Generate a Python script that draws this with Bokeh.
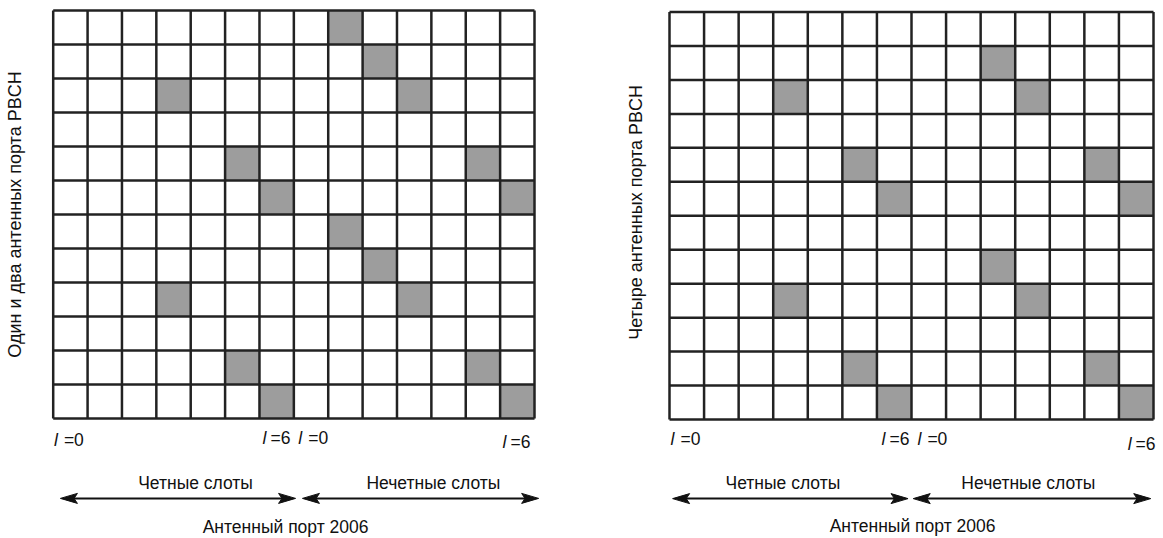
import math
from bokeh.plotting import figure
from bokeh.layouts import row
from bokeh.models import Range1d
from bokeh.embed import file_html
from bokeh.resources import INLINE
from bokeh.core.properties import value

# ---------------- data ----------------
N_COLS = 14
N_ROWS = 12

# shaded resource elements: row index counted from the top, column index (symbol)
left_rows = [0, 1, 2, 2, 4, 4, 5, 5, 6, 7, 8, 8, 10, 10, 11, 11]
left_cols = [8, 9, 3, 10, 5, 12, 6, 13, 8, 9, 3, 10, 5, 12, 6, 13]
right_rows = [1, 2, 2, 4, 4, 5, 5, 7, 8, 8, 10, 10, 11, 11]
right_cols = [9, 3, 10, 5, 12, 6, 13, 9, 3, 10, 5, 12, 6, 13]

left_ylabel = "Один и два антенных порта PBCH"
right_ylabel = "Четыре антенных порта PBCH"
slot_labels = ["Четные слоты", "Нечетные слоты"]
symbol_values = ["=0", "=6", "=0", "=6"]
symbol_letter = "l"
x_label = "Антенный порт 2006"

FONT = value("Liberation Sans")
FS = value("17.5px")
FS_Y = value("18px")
GRAY = "#9d9d9d"
LINE = "#222222"
TXT = "#111111"


def build(width, height, gx0, gx1, gy0, gy1, cells_r, cells_c, ylabel, lay):
    cw = (gx1 - gx0) / N_COLS
    rh = (gy1 - gy0) / N_ROWS
    xr = Range1d(-gx0 / cw, (width - gx0) / cw)
    yr = Range1d(N_ROWS - (height - gy0) / rh, N_ROWS + gy0 / rh)
    p = figure(width=width, height=height, x_range=xr, y_range=yr,
               x_axis_location=None, y_axis_location=None,
               toolbar_location=None, output_backend="svg",
               min_border=0, outline_line_color=None,
               background_fill_color="white", border_fill_color="white")
    p.xgrid.visible = False
    p.ygrid.visible = False

    # shaded cells
    p.quad(left=cells_c, right=[c + 1 for c in cells_c],
           top=[N_ROWS - r for r in cells_r],
           bottom=[N_ROWS - r - 1 for r in cells_r],
           fill_color=GRAY, line_color=None)

    # grid lines
    cols = list(range(N_COLS + 1))
    rows_ = list(range(N_ROWS + 1))
    p.segment(x0=cols, x1=cols, y0=[0] * len(cols), y1=[N_ROWS] * len(cols),
              line_color=LINE, line_width=2.5)
    p.segment(x0=[0] * len(rows_), x1=[N_COLS] * len(rows_), y0=rows_, y1=rows_,
              line_color=LINE, line_width=2.5)

    # y label
    p.text(x=[lay["ylab_x"]], y=[lay["ylab_y"]], text=[ylabel], angle=math.pi / 2,
           text_align="center", text_baseline="middle",
           text_font=FONT, text_font_size=FS_Y, text_color=TXT)

    # symbol index labels  l =0 ... l =6
    for (xx, yy, align), val in zip(lay["sym"], symbol_values):
        if align == "left":
            p.text(x=[xx], y=[yy], text=[symbol_letter], text_align="left",
                   text_baseline="middle", text_font=FONT, text_font_size=FS,
                   text_font_style="italic", text_color=TXT)
            p.text(x=[xx], y=[yy], text=[val], text_align="left", x_offset=10,
                   text_baseline="middle", text_font=FONT, text_font_size=FS,
                   text_color=TXT)
        else:
            p.text(x=[xx], y=[yy], text=[val], text_align="right",
                   text_baseline="middle", text_font=FONT, text_font_size=FS,
                   text_color=TXT)
            p.text(x=[xx], y=[yy], text=[symbol_letter], text_align="right", x_offset=-24,
                   text_baseline="middle", text_font=FONT, text_font_size=FS,
                   text_font_style="italic", text_color=TXT)

    # slot labels
    p.text(x=lay["slot_x"], y=[lay["slot_y"]] * 2, text=slot_labels,
           text_align="center", text_baseline="middle",
           text_font=FONT, text_font_size=FS, text_color=TXT)

    # double headed arrows
    ay = lay["arrow_y"]
    hl = 17 / cw
    hw = 5 / rh
    xs, ys = [], []
    for (a0, a1) in lay["arrows"]:
        p.segment(x0=[a0 + hl * 0.6], x1=[a1 - hl * 0.6], y0=[ay], y1=[ay],
                  line_color=TXT, line_width=2)
        xs.append([a0, a0 + hl, a0 + hl * 0.8, a0 + hl])
        ys.append([ay, ay + hw, ay, ay - hw])
        xs.append([a1, a1 - hl, a1 - hl * 0.8, a1 - hl])
        ys.append([ay, ay + hw, ay, ay - hw])
    p.patches(xs=xs, ys=ys, fill_color=TXT, line_color=TXT, line_width=1)

    # x label
    p.text(x=[lay["xlab_x"]], y=[lay["xlab_y"]], text=[x_label],
           text_align="center", text_baseline="middle",
           text_font=FONT, text_font_size=FS, text_color=TXT)
    return p


left_layout = dict(
    ylab_x=-1.10, ylab_y=6.0,
    sym=[(0.02, -0.62, "left"), (6.90, -0.58, "right"),
         (7.13, -0.58, "left"), (13.88, -0.68, "right")],
    slot_x=[4.14, 11.06], slot_y=-1.91,
    arrows=[(0.21, 7.05), (7.25, 14.12)], arrow_y=-2.35,
    xlab_x=6.76, xlab_y=-3.18,
)
right_layout = dict(
    ylab_x=-0.98, ylab_y=6.1,
    sym=[(0.03, -0.58, "left"), (6.94, -0.58, "right"),
         (7.17, -0.58, "left"), (14.06, -0.72, "right")],
    slot_x=[3.28, 10.38], slot_y=-1.87,
    arrows=[(0.09, 6.9), (7.05, 13.92)], arrow_y=-2.33,
    xlab_x=7.03, xlab_y=-3.15,
)

p_left = build(588, 538, 52.7, 534.0, 10.0, 418.0, left_rows, left_cols, left_ylabel, left_layout)
p_right = build(575, 538, 81.0, 565.0, 11.5, 419.0, right_rows, right_cols, right_ylabel, right_layout)

layout = row(p_left, p_right)
open("out.html", "w").write(file_html(layout, INLINE))
